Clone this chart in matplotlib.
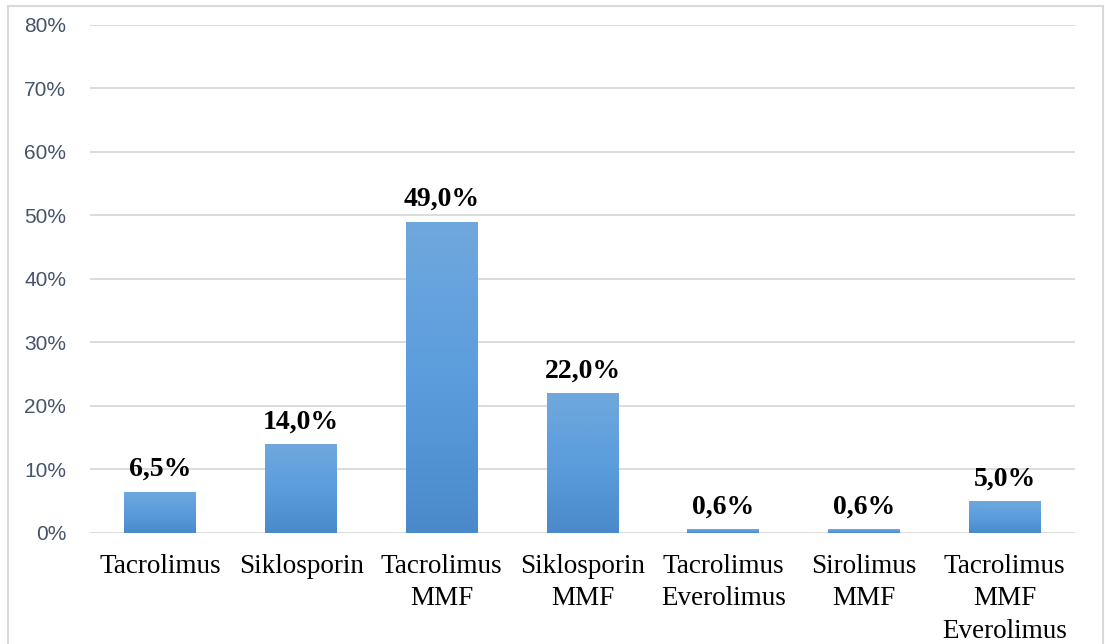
import numpy as np
import matplotlib.pyplot as plt
from matplotlib.colors import LinearSegmentedColormap
from matplotlib.patches import Rectangle
from matplotlib.ticker import FuncFormatter

categories = ["Tacrolimus", "Siklosporin", "Tacrolimus\nMMF", "Siklosporin\nMMF",
              "Tacrolimus\nEverolimus", "Sirolimus\nMMF", "Tacrolimus\nMMF\nEverolimus"]
values = [6.5, 14.0, 49.0, 22.0, 0.6, 0.6, 5.0]
labels = ["6,5%", "14,0%", "49,0%", "22,0%", "0,6%", "0,6%", "5,0%"]
yticks = [0, 10, 20, 30, 40, 50, 60, 70, 80]

fig = plt.figure(figsize=(11.05, 6.44), dpi=100)
ax = fig.add_axes([0.0814, 0.1724, 0.8916, 0.7888])

# outer frame around the chart area
fig.patches.append(Rectangle((0.007, -0.05), 0.991, 1.04, transform=fig.transFigure,
                             fill=False, edgecolor="#d9d9d9", linewidth=1.5))

x = np.arange(len(categories))
bars = ax.bar(x, values, width=0.51, color="none", zorder=3)

# vertical gradient fill for each bar
cmap = LinearSegmentedColormap.from_list("blue", ["#4a8acb", "#5b9ddd", "#70a8dd"])
grad = np.linspace(0, 1, 256).reshape(-1, 1)
for b in bars:
    x0, y0 = b.get_x(), b.get_y()
    w, h = b.get_width(), b.get_height()
    im = ax.imshow(grad, cmap=cmap, aspect="auto", origin="lower",
                   extent=[x0, x0 + w, y0, y0 + h], zorder=3)
    im.set_clip_path(b)

for xi, v, lab in zip(x, values, labels):
    ax.annotate(lab, (xi, v), xytext=(0, 7), textcoords="offset points",
                ha="center", va="bottom", fontsize=20, fontweight="bold",
                family="Liberation Serif", color="black")

ax.set_xlim(-0.5, len(categories) - 0.5)
ax.set_ylim(0, 80)
ax.set_yticks(yticks)
ax.yaxis.set_major_formatter(FuncFormatter(lambda v, p: f"{v:.0f}%"))
ax.grid(axis="y", color="#d9d9d9", linewidth=1.3, zorder=0)
ax.set_axisbelow(True)
for s in ax.spines.values():
    s.set_visible(False)
ax.tick_params(axis="y", length=0, pad=17, labelsize=15, labelcolor="#44546a")
for t in ax.get_yticklabels():
    t.set_family("Liberation Sans")
ax.set_xticks(x)
ax.set_xticklabels(categories, family="Liberation Serif", fontsize=19.5,
                   linespacing=1.4)
ax.tick_params(axis="x", length=0, pad=15)

fig.savefig("out.png", dpi=100)
